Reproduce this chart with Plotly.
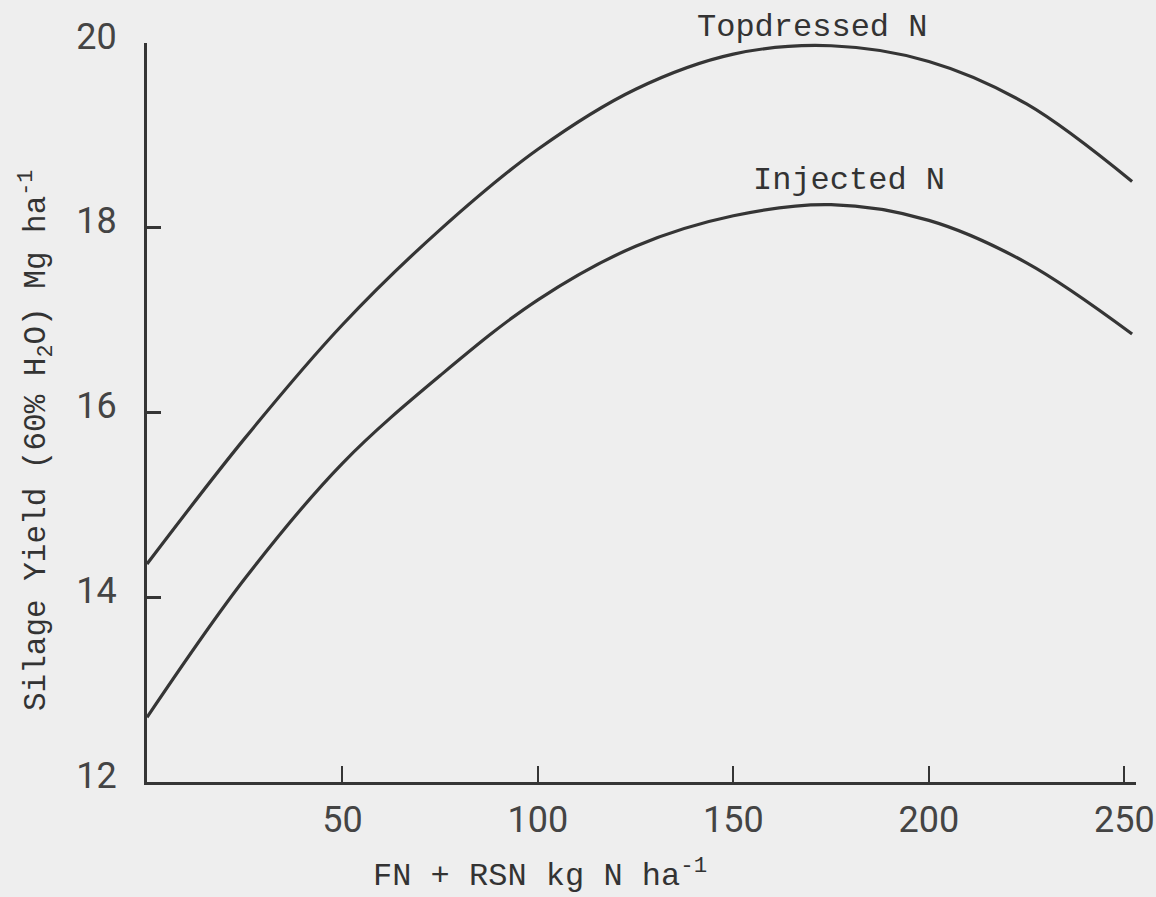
import plotly.graph_objects as go

# ---- data ----
n_rate = [0, 25, 50, 75, 100, 125, 150, 175, 200, 225, 252]
topdressed_yield = [14.36, 15.72, 16.95, 17.98, 18.85, 19.5, 19.88, 19.97, 19.8, 19.34, 18.5]
injected_yield = [12.7, 14.2, 15.45, 16.4, 17.22, 17.8, 18.13, 18.25, 18.08, 17.62, 16.85]

x_ticks = [50, 100, 150, 200, 250]
y_ticks = [12, 14, 16, 18, 20]

line_col = "#353535"
bg = "#eeeeee"
mono = "Courier New, Liberation Mono, monospace"
tickfont = dict(family="Liberation Sans Narrow, Roboto, sans-serif", size=36, color="#444444")

fig = go.Figure()
fig.add_trace(go.Scatter(x=n_rate, y=topdressed_yield, mode="lines",
                         line=dict(color=line_col, width=3.2, shape="spline", smoothing=1.0),
                         name="Topdressed N", showlegend=False))
fig.add_trace(go.Scatter(x=n_rate, y=injected_yield, mode="lines",
                         line=dict(color=line_col, width=3.2, shape="spline", smoothing=1.0),
                         name="Injected N", showlegend=False))

L, T, PW, PH = 147, 43, 989, 739

def px(xp):
    return (xp - L) / PW

def py(yp):
    return (T + PH - yp) / PH

fig.update_layout(
    width=1156, height=897,
    margin=dict(l=L, r=1156 - L - PW, t=T, b=897 - T - PH, autoexpand=False),
    paper_bgcolor=bg, plot_bgcolor=bg,
    showlegend=False,
    xaxis=dict(range=[0, 253], tickvals=x_ticks, ticktext=[str(v) for v in x_ticks],
               showgrid=False, zeroline=False, showline=True, linecolor=line_col, linewidth=3,
               ticks="inside", ticklen=16, tickwidth=2, tickcolor=line_col, automargin=False,
               tickfont=tickfont, ticklabelstandoff=4, ticklabeloverflow="allow"),
    yaxis=dict(range=[12, 20], tickvals=y_ticks, ticktext=[str(v) for v in y_ticks],
               showgrid=False, zeroline=False, showline=True, linecolor=line_col, linewidth=3,
               ticks="inside", ticklen=14, tickwidth=3, tickcolor=line_col, automargin=False,
               tickfont=tickfont, ticklabelstandoff=20, ticklabelshift=-7,
               ticklabeloverflow="allow"),
    annotations=[
        dict(x=px(812), y=py(27), xref="paper", yref="paper", text="Topdressed N", showarrow=False,
             font=dict(family=mono, size=32, color="#333333"), xanchor="center", yanchor="middle"),
        dict(x=px(849), y=py(180), xref="paper", yref="paper", text="Injected N", showarrow=False,
             font=dict(family=mono, size=32, color="#333333"), xanchor="center", yanchor="middle"),
        dict(x=px(540), y=py(874), xref="paper", yref="paper",
             text="FN + RSN kg N ha<sup>-1</sup>", showarrow=False,
             font=dict(family=mono, size=32, color="#333333"), xanchor="center", yanchor="middle"),
        dict(x=px(37), y=py(441), xref="paper", yref="paper",
             text="Silage Yield (60% H<sub>2</sub>O) Mg ha<sup>-1</sup>", showarrow=False,
             textangle=-90,
             font=dict(family=mono, size=31, color="#333333"), xanchor="center", yanchor="middle"),
    ],
)

fig.write_html("out.html")
